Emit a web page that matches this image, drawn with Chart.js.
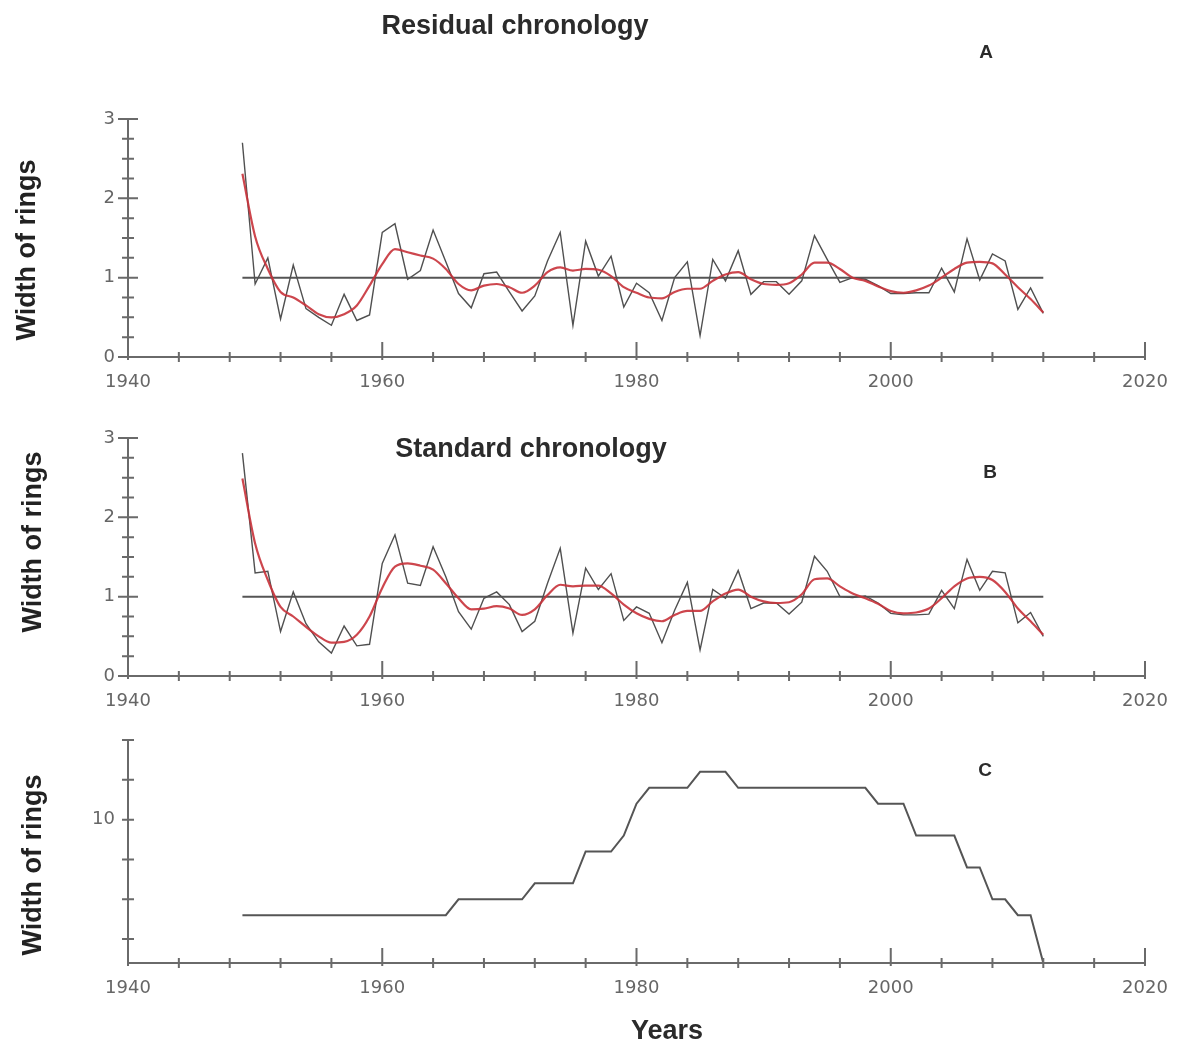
<!DOCTYPE html>
<html>
<head>
<meta charset="utf-8">
<script src="https://cdn.jsdelivr.net/npm/chart.js@4.4.0/dist/chart.umd.min.js"></script>
<style>
  body { margin: 0; background: #fff; width: 1177px; height: 1043px; position: relative; overflow: hidden;
         font-family: "Liberation Sans", Arial, sans-serif; }
  canvas { position: absolute; left: 0; }
  .t { position: absolute; font-weight: bold; color: #2b2b2b; white-space: nowrap; transform: translate(-50%, -50%); }
  .yt { position: absolute; font-weight: bold; color: #222; font-size: 27px; white-space: nowrap;
        transform: translate(-50%, -50%) rotate(-90deg); }
</style>
</head>
<body>
<canvas id="chartA" width="1177" height="400" style="top:0"></canvas>
<canvas id="chartB" width="1177" height="320" style="top:400px"></canvas>
<canvas id="chartC" width="1177" height="343" style="top:700px"></canvas>

<div class="t" style="left:515px;top:25px;font-size:27px">Residual chronology</div>
<div class="t" style="left:986px;top:52px;font-size:19px">A</div>
<div class="t" style="left:531px;top:448px;font-size:27px">Standard chronology</div>
<div class="t" style="left:990px;top:472px;font-size:19px">B</div>
<div class="t" style="left:985px;top:770px;font-size:19px">C</div>
<div class="t" style="left:667px;top:1030px;font-size:27px">Years</div>
<div class="yt" style="left:26px;top:250px">Width of rings</div>
<div class="yt" style="left:32px;top:542px">Width of rings</div>
<div class="yt" style="left:32px;top:865px">Width of rings</div>

<script>
const years = [1949,1950,1951,1952,1953,1954,1955,1956,1957,1958,
  1959,1960,1961,1962,1963,1964,1965,1966,1967,1968,
  1969,1970,1971,1972,1973,1974,1975,1976,1977,1978,
  1979,1980,1981,1982,1983,1984,1985,1986,1987,1988,
  1989,1990,1991,1992,1993,1994,1995,1996,1997,1998,
  1999,2000,2001,2002,2003,2004,2005,2006,2007,2008,
  2009,2010,2011,2012];

// A - residual chronology
const residualRaw = [2.70,0.92,1.25,0.48,1.16,0.61,0.50,0.40,0.79,0.46,
  0.53,1.57,1.68,0.98,1.09,1.60,1.20,0.80,0.62,1.05,
  1.07,0.82,0.58,0.77,1.21,1.57,0.40,1.46,1.02,1.27,
  0.63,0.93,0.81,0.46,1.00,1.20,0.27,1.23,0.96,1.34,
  0.79,0.95,0.95,0.79,0.96,1.53,1.23,0.94,1.00,0.98,
  0.90,0.80,0.80,0.81,0.81,1.12,0.82,1.49,0.97,1.30,
  1.21,0.60,0.87,0.55];
const residualSmooth = [2.31,1.52,1.11,0.82,0.75,0.65,0.54,0.50,0.54,0.65,
  0.90,1.17,1.36,1.32,1.28,1.24,1.11,0.92,0.84,0.90,
  0.92,0.88,0.81,0.90,1.07,1.13,1.09,1.11,1.10,1.02,
  0.88,0.81,0.75,0.74,0.82,0.86,0.86,0.96,1.04,1.07,
  0.98,0.92,0.91,0.93,1.04,1.19,1.19,1.11,1.00,0.96,
  0.89,0.83,0.81,0.84,0.90,1.00,1.11,1.19,1.20,1.18,
  1.04,0.88,0.73,0.56];

// B - standard chronology
const standardRaw = [2.81,1.30,1.32,0.56,1.06,0.66,0.43,0.29,0.63,0.38,
  0.40,1.42,1.78,1.17,1.14,1.63,1.25,0.81,0.59,0.98,
  1.06,0.90,0.56,0.69,1.17,1.61,0.54,1.36,1.09,1.29,
  0.70,0.87,0.79,0.42,0.83,1.18,0.33,1.09,0.98,1.33,
  0.85,0.92,0.92,0.78,0.93,1.51,1.32,1.00,0.99,1.01,
  0.92,0.79,0.77,0.77,0.78,1.08,0.85,1.47,1.08,1.32,
  1.30,0.67,0.80,0.50];
const standardSmooth = [2.49,1.67,1.21,0.87,0.75,0.62,0.50,0.42,0.43,0.52,
  0.75,1.11,1.38,1.42,1.39,1.34,1.17,0.98,0.84,0.85,
  0.88,0.85,0.77,0.84,1.02,1.15,1.13,1.14,1.14,1.04,
  0.90,0.79,0.72,0.69,0.77,0.82,0.82,0.94,1.04,1.09,
  1.00,0.94,0.92,0.93,1.03,1.22,1.23,1.13,1.04,0.98,
  0.91,0.82,0.79,0.80,0.85,0.98,1.13,1.23,1.25,1.21,
  1.06,0.85,0.69,0.52];

// C - sample depth
const sampleDepth = [4,4,4,4,4,4,4,4,4,4,
  4,4,4,4,4,4,4,5,5,5,
  5,5,5,6,6,6,6,8,8,8,
  9,11,12,12,12,12,13,13,13,12,
  12,12,12,12,12,12,12,12,12,12,
  11,11,11,9,9,9,9,7,7,5,
  5,4,4,1];

const meanYears = [1949, 2012];
const meanLine = [1, 1];

const xTickLabels = [1940, 1960, 1980, 2000, 2020];
const xMinorTicks = [1940,1944,1948,1952,1956,1960,1964,1968,1972,1976,1980,
  1984,1988,1992,1996,2000,2004,2008,2012,2016,2020];
const abTickLabels = [0, 1, 2, 3];
const abMinorTicks = [0,0.25,0.5,0.75,1,1.25,1.5,1.75,2,2.25,2.5,2.75,3];
const cTickLabels = [10];
const cMinorTicks = [2.5,5,7.5,10,12.5,15];

const pts = (xs, ys) => xs.map((x, i) => ({ x: x, y: ys[i] }));

const axisMarks = {
  id: 'axisMarks',
  afterDatasetsDraw(chart, args, opts) {
    const { ctx, scales: { x, y } } = chart;
    const x0 = x.getPixelForValue(x.min);
    const yb = y.getPixelForValue(y.min);
    ctx.save();
    ctx.strokeStyle = '#6a6a6a';
    ctx.lineWidth = 2;
    ctx.beginPath();
    ctx.moveTo(x0, yb); ctx.lineTo(x.getPixelForValue(x.max), yb);
    ctx.moveTo(x0, yb + 1); ctx.lineTo(x0, y.getPixelForValue(y.max));
    xMinorTicks.forEach(v => {
      const px = x.getPixelForValue(v);
      if (v % 20 === 0) { ctx.moveTo(px, yb - 15); ctx.lineTo(px, yb + 3); }
      else { ctx.moveTo(px, yb - 5); ctx.lineTo(px, yb + 5); }
    });
    opts.minor.forEach(v => {
      const py = y.getPixelForValue(v);
      if (opts.major.includes(v)) { ctx.moveTo(x0 - 10, py); ctx.lineTo(x0 + 10, py); }
      else { ctx.moveTo(x0 - 6, py); ctx.lineTo(x0 + 6, py); }
    });
    ctx.stroke();
    ctx.restore();
  }
};

const tickFont = { family: '"DejaVu Sans", sans-serif', size: 18 };

function panel(id, padTop, xHeight, yMin, yMax, yLabels, yMinor, yMajor, datasets) {
  return new Chart(document.getElementById(id), {
    type: 'line',
    data: { datasets: datasets },
    plugins: [axisMarks],
    options: {
      responsive: false,
      animation: false,
      devicePixelRatio: 1,
      layout: { padding: { top: padTop, right: 32, left: 0, bottom: 0 } },
      elements: { point: { radius: 0 } },
      plugins: {
        legend: { display: false },
        tooltip: { enabled: false },
        axisMarks: { minor: yMinor, major: yMajor }
      },
      scales: {
        x: {
          type: 'linear', min: 1940, max: 2020,
          grid: { display: false }, border: { display: false },
          afterBuildTicks: s => { s.ticks = xTickLabels.map(v => ({ value: v })); },
          afterFit: s => { s.height = xHeight; },
          ticks: { font: tickFont, color: '#666', padding: 7, maxRotation: 0, callback: v => String(v) }
        },
        y: {
          type: 'linear', min: yMin, max: yMax,
          grid: { display: false }, border: { display: false },
          afterBuildTicks: s => { s.ticks = yLabels.map(v => ({ value: v })); },
          afterFit: s => { s.width = 128; },
          ticks: { font: tickFont, color: '#666', padding: 5, callback: v => String(v) }
        }
      }
    }
  });
}

const red = 'rgba(200,50,58,0.9)';
const dark = '#505050';

panel('chartA', 119, 43, 0, 3, abTickLabels, abMinorTicks, abTickLabels, [
  { data: pts(years, residualSmooth), borderColor: red, borderWidth: 2.2, cubicInterpolationMode: 'monotone' },
  { data: pts(years, residualRaw), borderColor: dark, borderWidth: 1.4, tension: 0 },
  { data: pts(meanYears, meanLine), borderColor: '#555', borderWidth: 2 }
]);

panel('chartB', 38, 44, 0, 3, abTickLabels, abMinorTicks, abTickLabels, [
  { data: pts(years, standardSmooth), borderColor: red, borderWidth: 2.2, cubicInterpolationMode: 'monotone' },
  { data: pts(years, standardRaw), borderColor: dark, borderWidth: 1.4, tension: 0 },
  { data: pts(meanYears, meanLine), borderColor: '#555', borderWidth: 2 }
]);

panel('chartC', 40, 80, 1, 15, cTickLabels, cMinorTicks, [], [
  { data: pts(years, sampleDepth), borderColor: '#555', borderWidth: 2, tension: 0 }
]);
</script>
</body>
</html>
